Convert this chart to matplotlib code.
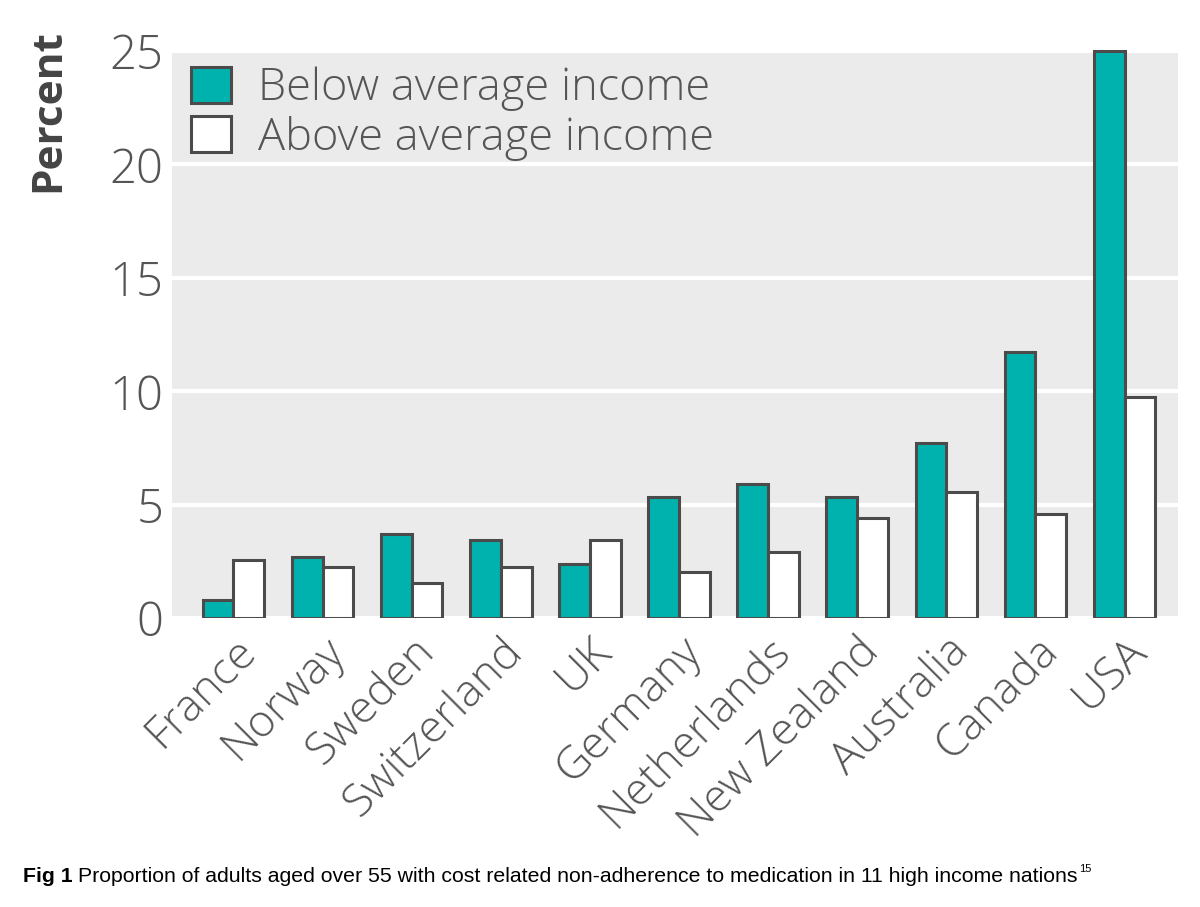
import numpy as np
import matplotlib
matplotlib.use('Agg')
import matplotlib.pyplot as plt
from matplotlib.patches import Patch

# Values (percent)
countries = ['France', 'Norway', 'Sweden', 'Switzerland', 'UK', 'Germany',
             'Netherlands', 'New Zealand', 'Australia', 'Canada', 'USA']
below_avg = [0.8, 2.7, 3.7, 3.45, 2.4, 5.35, 5.9, 5.35, 7.7, 11.75, 25.0]
above_avg = [2.55, 2.25, 1.55, 2.25, 3.45, 2.05, 2.9, 4.4, 5.55, 4.6, 9.75]
yticks = [0, 5, 10, 15, 20, 25]

TEAL = '#00b2ad'
EDGE = '#4b4b4b'
TEXT = '#555555'
FONT = ['Open Sans', 'DejaVu Sans']

plt.rcParams['font.family'] = FONT

fig = plt.figure(figsize=(12, 9.07), dpi=100)
ax = fig.add_axes([0.1433, 0.3186, 0.8384, 0.6263])
ax.set_facecolor('#ebebeb')

x = np.arange(len(countries))
w = 0.345
ax.bar(x - w / 2, below_avg, w, color=TEAL, edgecolor=EDGE, linewidth=2.2,
       zorder=3)
ax.bar(x + w / 2, above_avg, w, color='white', edgecolor=EDGE, linewidth=2.2,
       zorder=3)

ax.set_xlim(-0.69, 10.6)
ax.set_ylim(0, 25.05)
ax.set_yticks(yticks)
ax.set_yticklabels([str(t) for t in yticks], fontsize=34, color=TEXT,
                   fontweight='light')
ax.set_xticks(x)
ax.set_xticklabels(countries, rotation=45, ha='right', rotation_mode='anchor',
                   fontsize=32.5, color=TEXT, fontweight='light')
ax.tick_params(length=0)
ax.tick_params(axis='y', pad=6)
ax.tick_params(axis='x', pad=8)
for t in ax.get_xticklabels():
    t.set_x(t.get_position()[0] - 0.05)

ax.grid(axis='y', color='white', linewidth=3, zorder=1)
ax.set_axisbelow(True)
for s in ax.spines.values():
    s.set_visible(False)

ax.set_ylabel('Percent', fontsize=30.5, fontweight='bold', color='#444444')
ax.yaxis.set_label_coords(-0.102, 0.894)

handles = [Patch(facecolor=TEAL, edgecolor=EDGE, linewidth=2.2),
           Patch(facecolor='white', edgecolor=EDGE, linewidth=2.2)]
leg = ax.legend(handles, ['Below average income', 'Above average income'],
                loc='upper left', frameon=False, fontsize=32.5,
                handlelength=0.87, handleheight=0.84, handletextpad=0.6,
                labelspacing=0.1, borderaxespad=0.3,
                bbox_to_anchor=(-0.012, 1.026))
for t in leg.get_texts():
    t.set_color(TEXT)
    t.set_fontweight('light')

# caption: bold label, body text, superscript reference
renderer = fig.canvas.get_renderer()
base_y = 0.0276
cap = dict(fontsize=15.3, color='black', family='Liberation Sans',
           va='baseline')
t1 = fig.text(0.019, base_y, 'Fig 1', fontweight='bold', **cap)
x1 = fig.transFigure.inverted().transform(
    t1.get_window_extent(renderer).corners()[-1])[0]
t2 = fig.text(x1 + 0.005, base_y,
              'Proportion of adults aged over 55 with cost related '
              'non-adherence to medication in 11 high income nations', **cap)
x2 = fig.transFigure.inverted().transform(
    t2.get_window_extent(renderer).corners()[-1])[0]
fig.text(x2 + 0.001, base_y + 0.011, '15', fontsize=8, color='black',
         family='Liberation Sans', va='baseline')

fig.savefig('out.png', dpi=100)
